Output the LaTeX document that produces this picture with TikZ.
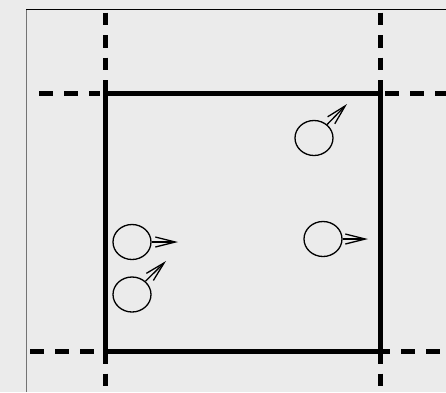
\documentclass[tikz,border=0pt]{standalone}
\usetikzlibrary{arrows.meta, shapes.geometric}
\definecolor{bgcol}{RGB}{235,235,235}
\begin{document}
\begin{tikzpicture}[
    x=1pt, y=-1pt,
    wall/.style={line width=5pt},
    imagev/.style={line width=5pt, dash pattern=on 12.5pt off 10pt},
    imageh/.style={line width=5pt, dash pattern=on 13.5pt off 11.5pt},
    particle/.style={draw, ellipse, line width=1.3pt, minimum width=38pt, minimum height=35pt, inner sep=0pt},
    velocity/.style={-{Straight Barb[length=20pt, width=10pt]}, line width=1.3pt}
]
  \fill[bgcol] (0,0) rectangle (446,392);
  \useasboundingbox (0,0) rectangle (446,392);
  \draw[black!55, line width=1.6pt] (26.5,392) -- (26.5,9.5);
  \draw[black, line width=1pt] (26,9.5) -- (446,9.5);

  % simulation box
  \coordinate (nw) at (105,93);
  \coordinate (se) at (380,351);
  \draw[wall] (nw) rectangle (se);

  % periodic images
  \draw[imagev] (105,12.7) -- (105,93);
  \draw[imagev] (380,12.7) -- (380,93);
  \draw[imagev] (105,351) -- (105,392);
  \draw[imagev] (380,351) -- (380,392);
  \draw[imageh] (39,93) -- (100,93);
  \draw[imageh] (385,93) -- (446,93);
  \draw[imageh] (30,351) -- (100,351);
  \draw[imageh] (376,351) -- (446,351);

  % particles
  \node[particle] (p1) at (132,242) {};
  \node[particle] (p2) at (132,294.5) {};
  \node[particle] (p3) at (314,138) {};
  \node[particle] (p4) at (323,239) {};

  \coordinate (t1) at (178,242);
  \coordinate (t2) at (166,261);
  \coordinate (t3) at (347,104);
  \coordinate (t4) at (368,239);

  \draw[velocity] (p1) -- (t1);
  \draw[velocity] (p2) -- (t2);
  \draw[velocity] (p3) -- (t3);
  \draw[velocity] (p4) -- (t4);
\end{tikzpicture}
\end{document}
